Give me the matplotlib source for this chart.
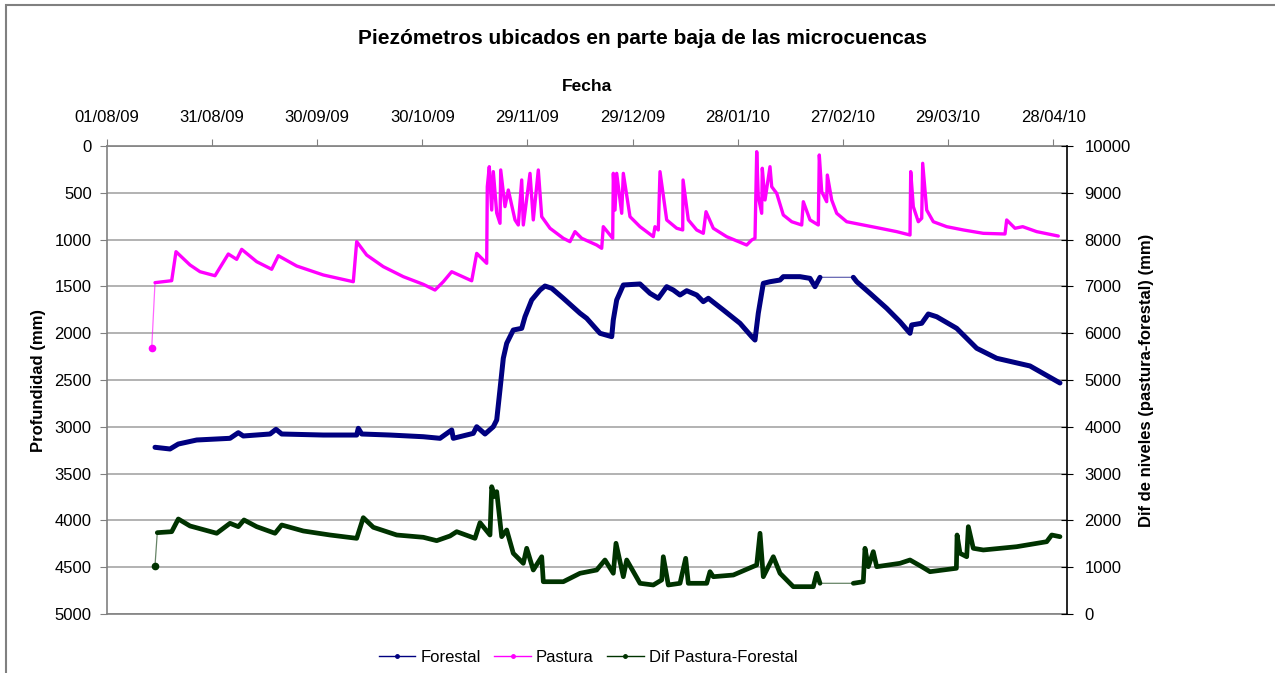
import numpy as np
import matplotlib
matplotlib.use("Agg")
import matplotlib.pyplot as plt
import matplotlib.dates as mdates
from matplotlib.lines import Line2D
from matplotlib.patches import Rectangle
import datetime as dt

plt.rcParams['font.family'] = ['Liberation Sans', 'DejaVu Sans']

TITLE = "Piezómetros ubicados en parte baja de las microcuencas"
XLABEL = "Fecha"
YLABEL_LEFT = "Profundidad (mm)"
YLABEL_RIGHT = "Dif de niveles (pastura-forestal) (mm)"
START = dt.date(2009, 8, 1)

# days since 01/08/09 and depth (mm)
pastura_day = [12.76, 13.70, 18.46, 19.69, 23.69, 26.54, 30.82, 34.62, 37.01, 38.44,
               42.72, 47.00, 48.89, 54.14, 61.73, 70.29, 71.26, 74.11, 78.85, 84.56,
               90.27, 93.61, 95.98, 98.37, 104.08, 105.51, 108.36, 108.53, 109.10, 109.79,
               110.25, 111.22, 112.16, 112.36, 113.58, 114.53, 116.44, 117.38, 118.35, 118.81,
               120.72, 121.66, 123.09, 124.06, 126.43, 130.22, 132.13, 133.56, 135.47, 139.75,
               141.18, 141.64, 144.32, 144.50, 144.98, 145.46, 146.89, 147.35, 149.26, 152.11,
               155.91, 156.39, 157.33, 157.82, 159.73, 162.59, 164.30, 164.40, 165.90, 168.29,
               170.18, 170.95, 173.03, 176.85, 182.56, 183.99, 184.93, 185.42, 185.87, 186.84,
               187.01, 187.79, 189.21, 189.70, 191.13, 193.01, 195.41, 198.26, 198.72, 200.63,
               203.00, 203.28, 203.97, 205.39, 205.57, 206.82, 208.25, 211.10, 215.84, 220.61,
               225.37, 229.17, 229.37, 230.11, 231.54, 232.51, 232.79, 233.93, 235.82, 239.64,
               244.38, 250.09, 256.28, 256.76, 259.13, 261.33, 265.33, 271.49]
pastura_mm = [2161, 1460, 1439, 1129, 1271, 1343, 1386, 1154, 1211, 1104,
              1236, 1317, 1172, 1282, 1378, 1450, 1022, 1165, 1289, 1396,
              1478, 1539, 1450, 1343, 1440, 1147, 1253, 435, 221, 684,
              274, 716, 826, 256, 648, 470, 790, 844, 363, 844,
              292, 790, 256, 755, 879, 986, 1022, 915, 986, 1058,
              1093, 862, 986, 292, 684, 292, 719, 292, 755, 862,
              969, 862, 897, 274, 790, 879, 897, 363, 790, 897,
              933, 702, 879, 969, 1058, 1004, 986, 61, 541, 719,
              238, 577, 221, 435, 506, 737, 809, 844, 595, 790,
              844, 96, 488, 595, 310, 577, 719, 809, 844, 879,
              915, 951, 274, 648, 809, 772, 185, 684, 809, 862,
              897, 933, 940, 790, 879, 862, 915, 962]

forestal_day = [13.70, 17.98, 20.35, 25.60, 35.10, 37.47, 38.90, 46.52, 48.23, 49.86,
                61.73, 71.26, 71.72, 72.69, 80.76, 90.27, 95.03, 98.37, 98.83, 104.54,
                105.51, 107.88, 110.25, 111.22, 112.16, 113.10, 114.07, 115.95, 118.35, 119.29,
                121.20, 123.57, 124.99, 126.91, 130.22, 134.99, 136.90, 140.70, 144.04, 144.49,
                145.46, 147.35, 152.11, 154.97, 157.33, 159.73, 161.63, 163.53, 165.44, 168.29,
                170.18, 171.61, 175.89, 180.65, 183.99, 184.93, 185.87, 187.30, 189.21, 192.07,
                193.01, 197.77, 200.63, 202.05, 203.48, 212.99, 213.96, 217.75, 222.52, 226.31,
                229.17, 229.65, 232.51, 234.39, 236.79, 242.49, 248.20, 253.91, 263.41, 271.97]
forestal_mm = [3219, 3237, 3184, 3141, 3123, 3063, 3098, 3077, 3027, 3077,
               3088, 3088, 3016, 3077, 3088, 3106, 3123, 3034, 3123, 3070,
               2999, 3077, 2999, 2927, 2600, 2268, 2108, 1966, 1948, 1824,
               1645, 1539, 1496, 1520, 1627, 1787, 1841, 2001, 2037, 1859,
               1645, 1485, 1474, 1574, 1627, 1503, 1539, 1592, 1546, 1592,
               1663, 1627, 1752, 1894, 2037, 2073, 1787, 1467, 1450, 1432,
               1396, 1396, 1414, 1503, 1403, 1403, 1450, 1574, 1734, 1877,
               2001, 1912, 1894, 1795, 1824, 1948, 2161, 2268, 2350, 2532]

dif_day = [13.70, 14.35, 18.46, 20.35, 23.69, 31.31, 35.10, 37.47, 39.10, 42.72,
           47.95, 49.86, 56.02, 63.64, 71.26, 73.14, 76.00, 82.68, 90.27, 94.09,
           97.89, 99.80, 105.02, 106.45, 109.30, 109.79, 110.73, 111.22, 112.64, 114.07,
           115.95, 118.81, 119.78, 121.66, 124.06, 124.52, 130.22, 134.99, 139.75, 142.12,
           144.49, 145.26, 147.35, 148.32, 152.11, 155.91, 158.30, 158.76, 160.19, 163.53,
           165.15, 165.90, 171.15, 172.09, 173.03, 178.74, 185.42, 186.36, 187.30, 190.16,
           192.07, 195.86, 201.57, 202.54, 203.48, 212.99, 215.84, 216.32, 217.27, 218.69,
           219.66, 226.31, 229.17, 232.51, 234.87, 242.40, 242.60, 243.44, 245.35, 245.81,
           247.23, 250.09, 259.62, 268.18, 269.61, 271.97]
dif_mm = [1033, 1738, 1759, 2030, 1881, 1725, 1938, 1866, 2009, 1866,
          1725, 1902, 1774, 1688, 1617, 2058, 1853, 1688, 1639, 1567,
          1667, 1759, 1617, 1951, 1688, 2720, 2507, 2614, 1652, 1795,
          1297, 1083, 1404, 940, 1224, 690, 690, 870, 940, 1154,
          870, 1511, 797, 1154, 656, 620, 727, 1224, 620, 656,
          1190, 656, 656, 904, 797, 833, 1047, 1725, 797, 1224,
          870, 584, 584, 870, 656, 656, 690, 1404, 1011, 1332,
          1011, 1083, 1154, 1011, 904, 977, 1688, 1297, 1224, 1866,
          1404, 1368, 1438, 1545, 1688, 1652]

# period without forestal readings (days since 01/08/09)
GAP_DAYS = (203.48, 212.99)

TICK_STEP_DAYS = 30
N_TICKS = 10

C_FOR = "#000080"
C_PAS = "#FF00FF"
C_DIF = "#003300"

W, H = 1275, 673
fig = plt.figure(figsize=(W / 100, H / 100), dpi=100)
fig.patches.append(Rectangle((6 / W, -0.1), 1.2, 1 - 5 / H + 0.1, transform=fig.transFigure,
                             fill=False, edgecolor="#808080", linewidth=1.5))

L, R, T, B = 107, 1067, 146, 614
ax = fig.add_axes([L / W, 1 - B / H, (R - L) / W, (B - T) / H])
ax2 = ax.twinx()

x0 = mdates.date2num(START)


def draw(axis, days, vals, color, lw, gap=None, isolated_first=True):
    d = np.array(days, dtype=float)
    x = x0 + d
    y = np.array(vals, dtype=float)
    axis.plot(x, y, color=color, lw=0.9, alpha=0.6, zorder=3)
    k = 1 if isolated_first else 0
    ds, xs, ys = d[k:], x[k:], y[k:]
    brk = []
    if gap is not None:
        brk = [i for i in range(len(ds) - 1)
               if ds[i] >= gap[0] - 1e-6 and ds[i + 1] <= gap[1] + 1e-6]
    start = 0
    for b in brk + [len(xs) - 1]:
        axis.plot(xs[start:b + 1], ys[start:b + 1], color=color, lw=lw,
                  solid_capstyle="round", solid_joinstyle="round", zorder=4)
        start = b + 1
    if isolated_first:
        axis.plot(x[:1], y[:1], "o", color=color, ms=4.5, zorder=4)


draw(ax, pastura_day, pastura_mm, C_PAS, 2.4)
draw(ax, forestal_day, forestal_mm, C_FOR, 3.6, gap=GAP_DAYS, isolated_first=False)
draw(ax2, dif_day, dif_mm, C_DIF, 3.4, gap=GAP_DAYS)

xmax = x0 + (R - L) / 3.504
ax.set_xlim(x0, xmax)
ax2.set_xlim(x0, xmax)
ax.set_ylim(5000, 0)
ax2.set_ylim(0, 10000)
ax.set_yticks(np.arange(0, 5001, 500))
ax2.set_yticks(np.arange(0, 10001, 1000))

ticks = [x0 + i * TICK_STEP_DAYS for i in range(N_TICKS)]
ax.xaxis.tick_top()
ax.set_xticks(ticks)
ax.xaxis.set_major_formatter(mdates.DateFormatter("%d/%m/%y"))
ax2.xaxis.set_visible(False)

ax.grid(axis="y", color="#A6A6A6", linewidth=1.2)
ax.set_axisbelow(True)

for sp in ["top", "left", "bottom"]:
    ax.spines[sp].set_color("#808080")
    ax.spines[sp].set_linewidth(1.2)
ax.spines["right"].set_visible(False)
for sp in ["top", "left", "bottom"]:
    ax2.spines[sp].set_visible(False)
ax2.spines["right"].set_color("black")
ax2.spines["right"].set_linewidth(1.2)

ax.tick_params(axis="x", which="both", direction="out", length=5, color="#808080",
               labelsize=12, pad=10, top=True, bottom=False, labeltop=True, labelbottom=False)
ax.tick_params(axis="y", direction="out", length=5, color="#808080", labelsize=12, pad=6)
ax2.tick_params(axis="y", direction="inout", length=9, color="black", labelsize=12, pad=8)

ax.set_ylabel(YLABEL_LEFT, fontsize=12, fontweight="bold", labelpad=6)
ax2.set_ylabel(YLABEL_RIGHT, fontsize=12, fontweight="bold", labelpad=6)
ax.set_xlabel(XLABEL, fontsize=12.5, fontweight="bold", labelpad=14)
ax.xaxis.set_label_position("top")

fig.text(642 / W, 1 - 38 / H, TITLE, ha="center", va="center",
         fontsize=15, fontweight="bold")

handles = [
    Line2D([0], [0], color=C_FOR, lw=1, marker="o", ms=2.5),
    Line2D([0], [0], color=C_PAS, lw=1, marker="o", ms=2.5),
    Line2D([0], [0], color=C_DIF, lw=1, marker="o", ms=2.5),
]
fig.legend(handles, ["Forestal", "Pastura", "Dif Pastura-Forestal"], loc="center",
           bbox_to_anchor=(588 / W, 1 - 657 / H), ncol=3, frameon=False,
           fontsize=12, handlelength=2.2, handletextpad=0.3, columnspacing=0.8)

fig.savefig("out.png", dpi=100)
